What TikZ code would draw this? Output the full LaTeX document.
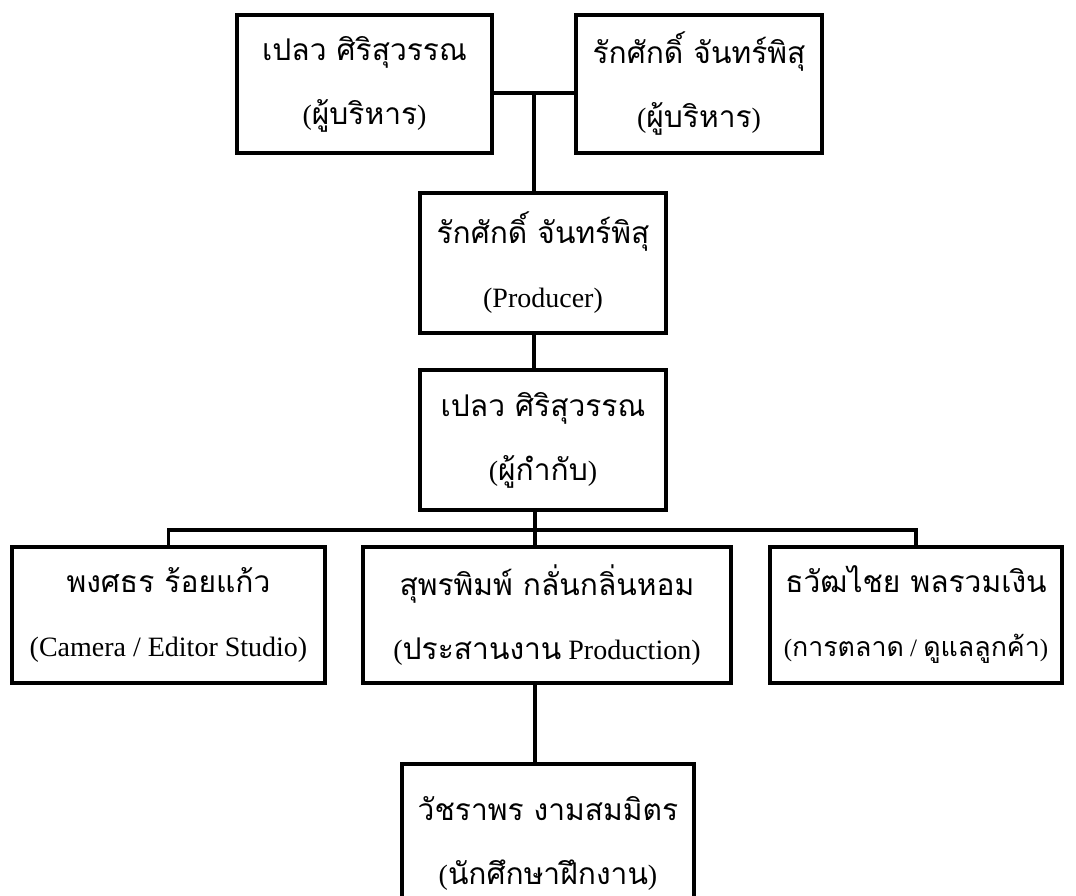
\documentclass[tikz,border=0pt]{standalone}
\usepackage{fontspec}
\setmainfont{Liberation Serif}
\newfontfamily\thaifont[Script=Thai,Scale=1.07]{Loma}
\usetikzlibrary{positioning}

\tikzset{
  orgbox/.style={draw,line width=3.8pt,align=center,inner sep=0pt,
                 font=\fontsize{28}{64}\selectfont},
  link/.style={line width=3.2pt}
}

\begin{document}
\begin{tikzpicture}[x=1pt,y=-1pt]
\clip (0,0) rectangle (1076,896);
% executives
\node[orgbox,minimum width=255pt,minimum height=138pt] (exec1) at (364.5,84)
  {{\thaifont เปลว ศิริสุวรรณ}\\({\thaifont ผู้บริหาร})};
\node[orgbox,minimum width=246pt,minimum height=138pt] (exec2) at (699,84)
  {{\thaifont รักศักดิ์ จันทร์พิสุ}\\({\thaifont ผู้บริหาร})};
% producer and director
\node[orgbox,minimum width=246pt,minimum height=140pt] (prod) at (543,263)
  {{\thaifont รักศักดิ์ จันทร์พิสุ}\\(Producer)};
\node[orgbox,minimum width=246pt,minimum height=140pt] (dir) at (543,440)
  {{\thaifont เปลว ศิริสุวรรณ}\\({\thaifont ผู้กำกับ})};
% staff
\node[orgbox,minimum width=313pt,minimum height=136pt] (cam) at (168.5,615)
  {{\thaifont พงศธร ร้อยแก้ว}\\(Camera / Editor Studio)};
\node[orgbox,minimum width=368pt,minimum height=136pt] (coord) at (547,615)
  {{\thaifont สุพรพิมพ์ กลั่นกลิ่นหอม}\\({\thaifont ประสานงาน} Production)};
\node[orgbox,minimum width=292pt,minimum height=136pt] (mkt) at (916,615)
  {{\thaifont ธวัฒไชย พลรวมเงิน}\\{\fontsize{25}{64}\selectfont
   ({\thaifont การตลาด} / {\thaifont ดูแลลูกค้า})}};
\node[orgbox,minimum width=292pt,minimum height=158pt] (intern) at (548,843)
  {{\thaifont วัชราพร งามสมมิตร}\\({\thaifont นักศึกษาฝึกงาน})};

\coordinate (tj) at (534,93);
\coordinate (bus) at (535,530);
\draw[link] (exec1.east |- tj) -- (exec2.west |- tj);
\draw[link] (tj) -- (tj |- prod.north);
\draw[link] (tj |- prod.south) -- (tj |- dir.north);
\draw[link] (bus |- dir.south) -- (bus |- coord.north);
\draw[link] (cam.north) |- (bus) -| (mkt.north);
\draw[link] (bus |- coord.south) -- (bus |- intern.north);
\end{tikzpicture}
\end{document}
